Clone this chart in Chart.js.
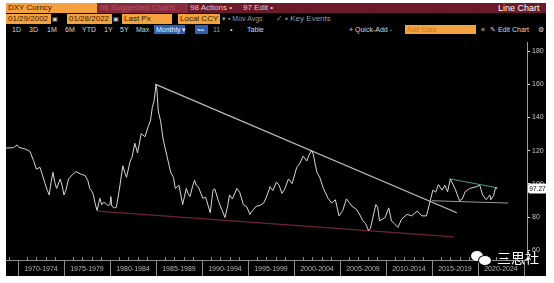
<!DOCTYPE html>
<html lang="en">
<head>
    <meta charset="UTF-8">
    <title>DXY Curncy</title>
    <script src="https://cdn.jsdelivr.net/npm/chart.js"></script>
    <style>
        body {
            margin: 0;
            width: 554px;
            height: 283px;
            background: #ffffff;
            font-family: 'Liberation Sans', Arial, sans-serif;
            position: relative;
            overflow: hidden;
        }
        .frame {
            position: absolute;
            left: 6px;
            top: 3px;
            width: 540px;
            height: 273px;
            background: #000000;
        }
        .bar {
            position: absolute;
            left: 6px;
            top: 3px;
            width: 540px;
            height: 10px;
            background: #6a1a28;
        }
        .t {
            position: absolute;
            font-size: 8px;
            line-height: 10px;
            white-space: nowrap;
            color: #d8d8d8;
        }
        .btn {
            position: absolute;
            top: 25px;
            font-size: 7px;
            line-height: 9px;
            white-space: nowrap;
            color: #d8d8d8;
        }
        .orange {
            position: absolute;
            background: #f3a23f;
            color: #3a1a00;
            font-size: 8px;
            line-height: 10px;
            padding-left: 2px;
            white-space: nowrap;
            box-sizing: border-box;
        }
        .blue {
            position: absolute;
            background: #2f5fb0;
            color: #e8eefc;
            font-size: 7px;
            line-height: 9px;
            white-space: nowrap;
            padding-left: 2px;
            box-sizing: border-box;
        }
        #chart {
            position: absolute;
            left: 6px;
            top: 36px;
        }
        .mark {
            position: absolute;
            color: #ffffff;
            font-family: 'Noto Sans CJK SC', sans-serif;
            font-size: 14px;
            line-height: 16px;
        }
        .bubble {
            position: absolute;
            background: #ffffff;
            border-radius: 50%;
        }
    </style>
</head>
<body>
    <div class="frame"></div>
    <div class="bar"></div>

    <!-- row 1 -->
    <div class="orange" style="left:6px;top:3px;width:91px;height:10px;">DXY Curncy</div>
    <div class="t" style="left:97px;top:3px;width:88px;height:10px;background:#8a2a3c;color:#b2566a;padding-left:3px;">96 Suggested Charts</div>
    <div class="t" style="left:190px;top:3px;color:#f0c8cf;">98 Actions •</div>
    <div class="t" style="left:243px;top:3px;color:#f0c8cf;">97 Edit •</div>
    <div class="t" style="left:498px;top:3px;color:#ffffff;font-size:9px;">Line Chart</div>

    <!-- row 2 -->
    <div class="orange" style="left:6px;top:14px;width:45px;height:10px;">01/29/2002</div>
    <div class="t" style="left:52px;top:14px;color:#cfcfcf;font-size:6px;">▣</div>
    <div class="orange" style="left:67px;top:14px;width:45px;height:10px;">01/28/2022</div>
    <div class="t" style="left:113px;top:14px;color:#cfcfcf;font-size:6px;">▣</div>
    <div class="orange" style="left:122px;top:14px;width:50px;height:10px;">Last Px</div>
    <div class="orange" style="left:178px;top:14px;width:42px;height:10px;">Local CCY</div>
    <div class="t" style="left:222px;top:14px;color:#9a9a9a;font-size:7px;">▾ ▪ Mov Avgs</div>
    <div class="t" style="left:276px;top:14px;color:#9a9a9a;font-size:8px;">✓ ▪ Key Events</div>

    <!-- row 3 -->
    <div class="btn" style="left:12px;">1D</div>
    <div class="btn" style="left:29px;">3D</div>
    <div class="btn" style="left:47px;">1M</div>
    <div class="btn" style="left:65px;">6M</div>
    <div class="btn" style="left:82px;">YTD</div>
    <div class="btn" style="left:104px;">1Y</div>
    <div class="btn" style="left:120px;">5Y</div>
    <div class="btn" style="left:136px;">Max</div>
    <div class="blue" style="left:154px;top:25px;width:31px;height:9px;">Monthly ▾</div>
    <div class="blue" style="left:195px;top:25px;width:13px;height:9px;">〰</div>
    <div class="btn" style="left:213px;color:#9a9a9a;">11</div>
    <div class="btn" style="left:230px;">•</div>
    <div class="btn" style="left:247px;">Table</div>
    <div class="btn" style="left:349px;">+ Quick-Add -</div>
    <div class="orange" style="left:405px;top:25px;width:71px;height:9px;font-size:7px;line-height:9px;color:#d07a20;">Add Data</div>
    <div class="btn" style="left:481px;">«</div>
    <div class="btn" style="left:490px;">✎ Edit Chart</div>
    <div class="btn" style="left:538px;">⚙</div>

    <canvas id="chart" width="541" height="240"></canvas>

    <!-- watermark -->
    <div class="bubble" style="left:471px;top:251px;width:12px;height:10px;"></div>
    <div class="bubble" style="left:478px;top:255px;width:12px;height:9px;border:1px solid #000;"></div>
    <div class="mark" style="left:497px;top:249px;">三思社</div>

    <script>
        // monthly-ish DXY closes
        const dxyYears = [
            1968.7, 1969.5, 1969.9, 1970.1, 1970.8, 1971.3, 1971.7, 1972.0, 1972.4, 1972.9,
            1973.2, 1973.4, 1973.6, 1973.8, 1974.0, 1974.2, 1974.6, 1974.8, 1975.0, 1975.2,
            1975.5, 1975.9, 1976.3, 1976.8, 1977.3, 1977.6, 1977.8, 1978.0, 1978.2, 1978.4,
            1978.6, 1978.8, 1978.9, 1979.1, 1979.3, 1979.5, 1979.8, 1980.0, 1980.1, 1980.2,
            1980.5, 1980.7, 1981.0, 1981.4, 1981.6, 1981.8, 1982.2, 1982.4, 1982.7, 1983.0,
            1983.4, 1983.8, 1984.2, 1984.4, 1984.6, 1984.8, 1985.0, 1985.1, 1985.25, 1985.5,
            1985.8, 1986.2, 1986.6, 1986.9, 1987.1, 1987.5, 1987.9, 1988.3, 1988.5, 1988.7,
            1989.0, 1989.2, 1989.4, 1989.6, 1990.1, 1990.4, 1990.9, 1991.2, 1991.4, 1991.8,
            1992.2, 1992.5, 1992.8, 1993.0, 1993.3, 1993.8, 1994.1, 1994.5, 1994.9, 1995.2,
            1995.5, 1995.9, 1996.3, 1996.7, 1997.0, 1997.4, 1997.7, 1998.1, 1998.4, 1998.7,
            1999.0, 1999.4, 1999.8, 2000.3, 2000.6, 2001.0, 2001.4, 2001.6, 2001.9, 2002.1,
            2002.3, 2002.5, 2002.8, 2003.2, 2003.7, 2004.1, 2004.5, 2004.9, 2005.3, 2005.7,
            2006.0, 2006.3, 2006.8, 2007.1, 2007.5, 2007.8, 2008.1, 2008.3, 2008.5, 2008.9,
            2009.1, 2009.3, 2009.9, 2010.3, 2010.6, 2011.3, 2011.7, 2012.3, 2012.8, 2013.4,
            2013.9, 2014.4, 2014.8, 2015.1, 2015.4, 2015.7, 2016.1, 2016.4, 2016.7, 2017.0,
            2017.5, 2018.0, 2018.3, 2018.6, 2019.1, 2019.8, 2020.2, 2020.5, 2020.9, 2021.3,
            2021.4, 2021.7, 2021.9, 2022.1
        ];
        const dxyValues = [
            121.6, 121.8, 123.5, 122.0, 121.0, 119.6, 114.0, 108.9, 110.0, 101.0,
            96.0, 93.4, 101.0, 107.0, 101.0, 97.3, 103.0, 99.0, 93.4, 96.0,
            103.0, 105.5, 107.4, 106.0, 105.0, 102.0, 97.3, 96.0, 93.4, 88.0,
            84.0, 89.0, 91.4, 87.5, 89.0, 88.5, 87.0, 87.6, 92.4, 86.6,
            85.6, 86.0, 96.0, 110.9, 107.0, 104.0, 113.8, 116.0, 124.5, 118.7,
            130.3, 128.4, 135.2, 138.0, 145.9, 150.0, 159.5, 157.0, 143.9, 138.0,
            126.4, 116.7, 107.0, 104.0, 97.3, 99.2, 87.6, 97.3, 94.0, 92.4,
            99.0, 102.2, 99.0, 98.3, 91.4, 92.0, 82.7, 96.3, 97.0, 89.5,
            84.0, 79.8, 87.0, 93.4, 91.0, 97.3, 95.0, 87.6, 86.0, 81.7,
            84.0, 86.6, 87.0, 88.5, 92.0, 98.3, 96.0, 101.2, 99.0, 94.3,
            97.0, 103.0, 100.2, 110.0, 112.0, 116.7, 113.8, 117.0, 120.2, 118.0,
            112.0, 107.0, 104.0, 97.3, 91.4, 88.5, 90.5, 80.8, 84.0, 91.0,
            89.0, 86.6, 84.7, 82.0, 77.8, 76.0, 72.0, 73.0, 77.8, 87.6,
            86.0, 77.8, 79.8, 85.6, 77.8, 73.9, 78.8, 81.7, 80.8, 83.7,
            80.8, 80.8, 89.5, 96.3, 95.0, 99.6, 96.3, 99.2, 95.3, 103.0,
            97.3, 89.9, 91.0, 95.3, 97.3, 98.3, 99.2, 93.4, 90.5, 93.4,
            90.5, 93.0, 97.7, 97.27
        ];
        const lastPrice = 97.27;

        // hand-drawn trend lines: [year, value] end points
        const peakLine = [[1984.9, 160.1], [2017.7, 82.7]];
        const floorLine = [[1978.6, 83.7], [2017.4, 68.1]];
        const wedgeTop = [[2016.9, 103.1], [2022.1, 97.7]];
        const wedgeBase = [[2015.0, 89.9], [2023.3, 88.5]];

        const yTicks = [60, 80, 100, 120, 140, 160, 180];
        const periodStarts = [1970, 1975, 1980, 1985, 1990, 1995, 2000, 2005, 2010, 2015, 2020];

        function toPoints(xs, ys) {
            return xs.map((x, i) => ({ x: x, y: ys[i] }));
        }
        function segment(pair) {
            return pair.map(p => ({ x: p[0], y: p[1] }));
        }

        // x axis: period labels, separators and yearly ticks
        const periodAxis = {
            id: 'periodAxis',
            afterDraw(chart) {
                const ctx = chart.ctx;
                const xs = chart.scales.x;
                const area = chart.chartArea;
                const bottom = chart.height;
                ctx.save();
                ctx.strokeStyle = '#8c8c8c';
                ctx.lineWidth = 1;
                ctx.beginPath();
                ctx.moveTo(area.left, area.bottom + 0.5);
                ctx.lineTo(area.right, area.bottom + 0.5);
                ctx.stroke();
                for (let y = 1969; y <= 2025; y++) {
                    const px = Math.round(xs.getPixelForValue(y)) + 0.5;
                    ctx.beginPath();
                    if (y % 5 === 0) {
                        ctx.moveTo(px, area.bottom);
                        ctx.lineTo(px, bottom);
                    } else {
                        ctx.moveTo(px, area.bottom - 3);
                        ctx.lineTo(px, area.bottom);
                    }
                    ctx.stroke();
                }
                ctx.fillStyle = '#b8b8b8';
                ctx.font = '7px "Liberation Sans", Arial, sans-serif';
                ctx.textAlign = 'center';
                ctx.textBaseline = 'middle';
                periodStarts.forEach(s => {
                    const px = xs.getPixelForValue(s + 2.5);
                    ctx.fillText(s + '-' + (s + 4), px, area.bottom + 9);
                });
                ctx.restore();
            }
        };

        // white last-price tag on the right axis
        const lastTag = {
            id: 'lastTag',
            afterDraw(chart) {
                const ctx = chart.ctx;
                const ys = chart.scales.y;
                const py = ys.getPixelForValue(lastPrice);
                const x0 = chart.chartArea.right + 1;
                ctx.save();
                ctx.fillStyle = '#ffffff';
                ctx.beginPath();
                ctx.roundRect(x0, py - 5, 19, 10, 2);
                ctx.fill();
                ctx.fillStyle = '#000000';
                ctx.font = '6.5px "Liberation Sans", Arial, sans-serif';
                ctx.textAlign = 'center';
                ctx.textBaseline = 'middle';
                ctx.fillText(lastPrice.toFixed(2), x0 + 9.5, py + 0.5);
                ctx.restore();
            }
        };

        const lineStyle = (color, width) => ({
            borderColor: color,
            borderWidth: width,
            pointRadius: 0,
            tension: 0,
            fill: false
        });

        new Chart(document.getElementById('chart'), {
            type: 'line',
            data: {
                datasets: [
                    Object.assign({ data: toPoints(dxyYears, dxyValues) }, lineStyle('#d6d6d6', 1)),
                    Object.assign({ data: segment(peakLine) }, lineStyle('#bdbdbd', 1.2)),
                    Object.assign({ data: segment(floorLine) }, lineStyle('#6e2434', 1.2)),
                    Object.assign({ data: segment(wedgeTop) }, lineStyle('#4e9a78', 1)),
                    Object.assign({ data: segment(wedgeBase) }, lineStyle('#9c9c9c', 1))
                ]
            },
            options: {
                responsive: false,
                animation: false,
                devicePixelRatio: 1,
                layout: { padding: 0 },
                plugins: {
                    legend: { display: false },
                    tooltip: { enabled: false }
                },
                scales: {
                    x: {
                        type: 'linear',
                        min: 1968.7,
                        max: 2025.33,
                        afterFit(scale) { scale.height = 16; },
                        ticks: { display: false },
                        grid: { display: false },
                        border: { display: false }
                    },
                    y: {
                        position: 'right',
                        min: 54.24,
                        max: 185.3,
                        afterFit(scale) { scale.width = 20; },
                        afterBuildTicks(scale) {
                            scale.ticks = yTicks.map(v => ({ value: v }));
                        },
                        ticks: {
                            color: '#c8c8c8',
                            font: { size: 7, family: '"Liberation Sans", Arial, sans-serif' },
                            padding: 2
                        },
                        grid: {
                            drawOnChartArea: false,
                            tickLength: 3,
                            color: '#e0e0e0'
                        },
                        border: { color: '#9a9a9a' }
                    }
                }
            },
            plugins: [periodAxis, lastTag]
        });
    </script>
</body>
</html>
